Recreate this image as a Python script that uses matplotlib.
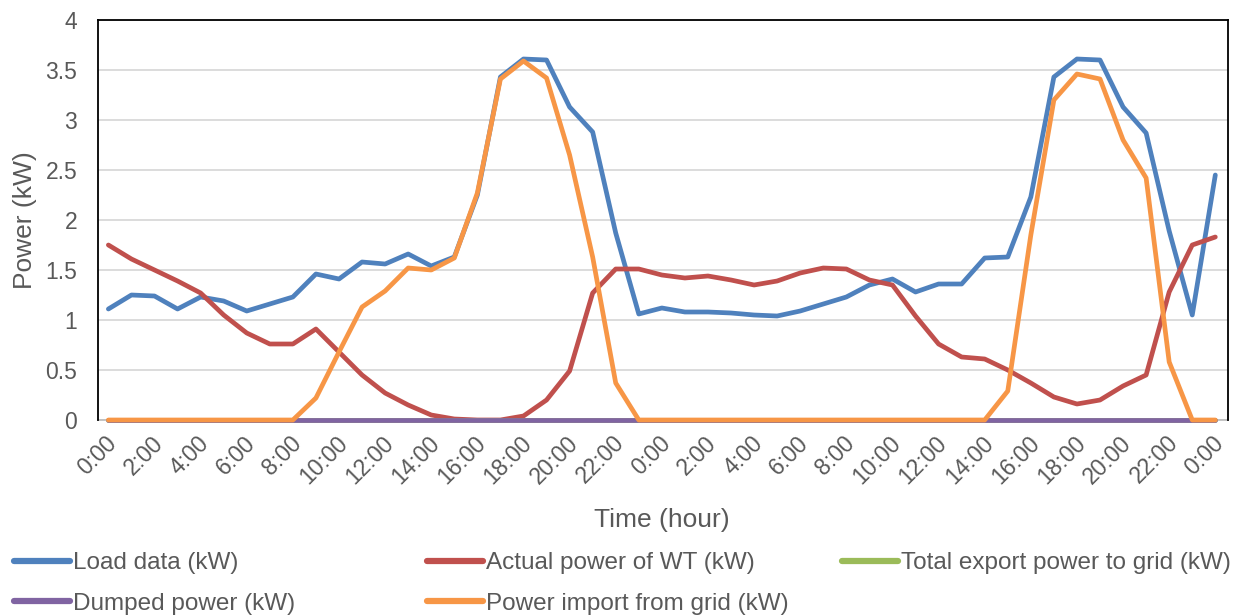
import matplotlib
matplotlib.use("Agg")
import matplotlib.pyplot as plt
import matplotlib.transforms as mtransforms
from matplotlib.lines import Line2D
import numpy as np

# hourly samples over two days (49 points, 0:00 day 1 .. 0:00 day 3)
hours = list(range(0, 24)) * 2 + [0]
tick_labels = ["%d:00" % h for h in hours]

load = [1.11, 1.25, 1.24, 1.11, 1.23, 1.19, 1.09, 1.16, 1.23, 1.46, 1.41, 1.58,
        1.56, 1.66, 1.54, 1.63, 2.25, 3.43, 3.61, 3.60, 3.13, 2.88, 1.87, 1.06,
        1.12, 1.08, 1.08, 1.07, 1.05, 1.04, 1.09, 1.16, 1.23, 1.35, 1.41, 1.28,
        1.36, 1.36, 1.62, 1.63, 2.23, 3.43, 3.61, 3.60, 3.13, 2.87, 1.89, 1.05,
        2.45]
wt_power = [1.75, 1.61, 1.50, 1.39, 1.27, 1.05, 0.87, 0.76, 0.76, 0.91, 0.68, 0.45,
            0.27, 0.15, 0.05, 0.01, 0.0, 0.0, 0.04, 0.20, 0.49, 1.27, 1.51, 1.51,
            1.45, 1.42, 1.44, 1.40, 1.35, 1.39, 1.47, 1.52, 1.51, 1.40, 1.35, 1.04,
            0.76, 0.63, 0.61, 0.50, 0.37, 0.23, 0.16, 0.20, 0.34, 0.45, 1.28, 1.75,
            1.83]
export_grid = [0.0] * 49
dumped = [0.0] * 49
import_grid = [0.0, 0.0, 0.0, 0.0, 0.0, 0.0, 0.0, 0.0, 0.0, 0.22, 0.68, 1.13,
               1.29, 1.52, 1.50, 1.62, 2.27, 3.41, 3.59, 3.42, 2.65, 1.63, 0.37, 0.0,
               0.0, 0.0, 0.0, 0.0, 0.0, 0.0, 0.0, 0.0, 0.0, 0.0, 0.0, 0.0,
               0.0, 0.0, 0.0, 0.29, 1.85, 3.20, 3.46, 3.41, 2.80, 2.42, 0.58, 0.0,
               0.0]

series = [
    ("Load data (kW)", load, "#4F81BD"),
    ("Actual power of WT (kW)", wt_power, "#C0504D"),
    ("Total export power to grid (kW)", export_grid, "#9BBB59"),
    ("Dumped power (kW)", dumped, "#8064A2"),
    ("Power import from grid (kW)", import_grid, "#F79646"),
]

plt.rcParams["font.family"] = ["Liberation Sans", "DejaVu Sans"]
text_col = "#595959"

W, H = 1239, 615
fig = plt.figure(figsize=(W / 100, H / 100), dpi=100)
ax = fig.add_axes([98 / W, 1 - 420 / H, 1130 / W, 400 / H])

x = np.arange(len(hours))
handles = {}
for name, vals, col in series:
    ln, = ax.plot(x, vals, color=col, lw=3.4, solid_capstyle="round",
                  solid_joinstyle="round", label=name, clip_on=False, zorder=3)
    handles[name] = ln

ax.set_xlim(-0.45, len(hours) - 1 + 0.55)
ax.set_ylim(0, 4)
ax.set_yticks(np.arange(0, 4.01, 0.5))
ax.set_yticklabels(["0", "0.5", "1", "1.5", "2", "2.5", "3", "3.5", "4"])
ax.set_xticks(x[::2])
ax.set_xticklabels(tick_labels[::2], rotation=45, ha="right", va="center",
                   rotation_mode="anchor")
ax.tick_params(axis="both", length=0, labelsize=16.5, colors=text_col)
ax.tick_params(axis="y", pad=15)
ax.tick_params(axis="x", pad=14)
shift = mtransforms.ScaledTranslation(5 / 100, 0, fig.dpi_scale_trans)
for lbl in ax.get_xticklabels():
    lbl.set_transform(lbl.get_transform() + shift)

ax.grid(axis="y", color="#D9D9D9", lw=1.3)
ax.set_axisbelow(True)
for side in ["left", "top", "right"]:
    ax.spines[side].set_color("black")
    ax.spines[side].set_linewidth(1.3)
ax.spines["bottom"].set_color("#BFBFBF")
ax.spines["bottom"].set_linewidth(1.3)
ax.spines["bottom"].set_zorder(1)

ax.set_ylabel("Power (kW)", fontsize=19, color=text_col, labelpad=6)
fig.text(662 / W, 1 - 520 / H, "Time (hour)", fontsize=19, color=text_col,
         ha="center", va="center")

# legend laid out as three columns under the axis title
columns = [
    (14, ["Load data (kW)", "Dumped power (kW)"]),
    (427, ["Actual power of WT (kW)", "Power import from grid (kW)"]),
    (842, ["Total export power to grid (kW)"]),
]
for xpos, names in columns:
    hs = []
    for n in names:
        ln = handles[n]
        hs.append(Line2D([], [], color=ln.get_color(), lw=4.5,
                         solid_capstyle="round"))
    leg = fig.legend(hs, names, loc="upper left",
                     bbox_to_anchor=(xpos / W, 1 - 552 / H),
                     frameon=False, fontsize=17.5, borderpad=0,
                     borderaxespad=0, handlelength=2.3, handletextpad=0.12,
                     labelspacing=0.77, labelcolor=text_col)

fig.savefig("out.png", dpi=100)
